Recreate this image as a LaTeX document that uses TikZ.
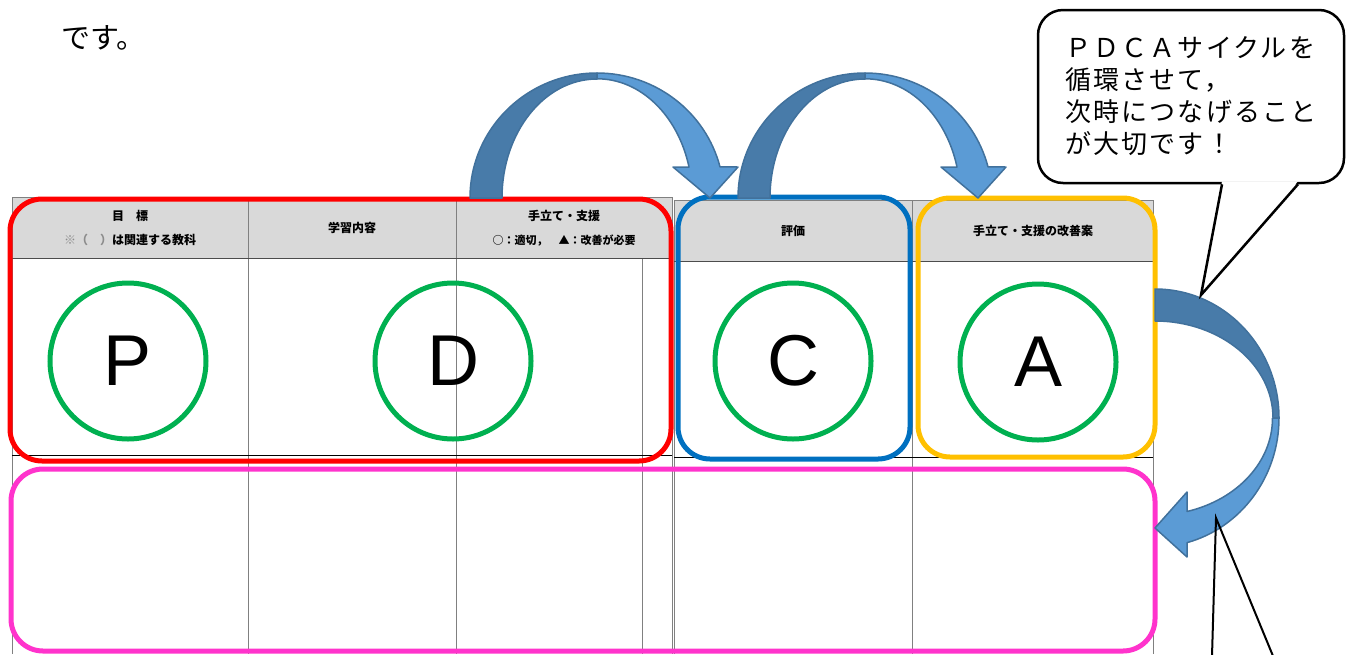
\documentclass[tikz,border=0pt]{standalone}
\usepackage{fontspec}
\usepackage{xcolor}
\usepackage{tikz}

\newfontfamily\jpfont{Noto Sans CJK JP}
\newfontfamily\memofont[LetterSpace=8]{Noto Sans CJK JP}
\newfontfamily\lettersans{Liberation Sans}

\definecolor{headgray}{RGB}{217,217,217}
\definecolor{pdgreen}{RGB}{0,176,80}
\definecolor{cblue}{RGB}{0,112,192}
\definecolor{ayellow}{RGB}{255,192,0}
\definecolor{rosa}{RGB}{255,51,204}
\definecolor{arrowlight}{RGB}{91,155,213}
\definecolor{arrowdark}{RGB}{72,123,169}
\definecolor{arrowedge}{RGB}{65,113,156}

\tikzset{
  rule/.style={draw=black!50, line width=0.9pt},
  headtext/.style={font=\jpfont\bfseries\fontsize{12}{24}\selectfont, align=center, inner sep=0pt},
  phase/.style={circle, draw=pdgreen, line width=5pt, minimum size=156pt, inner sep=0pt,
                font=\lettersans\fontsize{72}{72}\selectfont},
  frame/.style={line width=5pt, rounded corners=32pt},
  backpart/.style={fill=arrowdark, draw=arrowedge, line width=1.5pt, line join=round},
  frontpart/.style={fill=arrowlight, draw=arrowedge, line width=1.5pt, line join=round},
  memo/.style={draw, line width=2.5pt, fill=white, rounded corners=25pt, minimum width=306pt,
               minimum height=173pt, align=left, font=\memofont\fontsize{26}{32}\selectfont},
}

\begin{document}
\begin{tikzpicture}[x=1pt, y=-1pt]
        \useasboundingbox (0,0) rectangle (1346,654);

        \node[anchor=west, inner sep=0pt, font=\jpfont\fontsize{29}{29}\selectfont] (lead) at (61,38) {です。};

        % table, left part
        \fill[headgray] (12,197) rectangle (672,258);
        \draw[rule] (12,197) -- (672,197);
        \foreach \x in {12,248,456,672}
            \draw[rule] (\x,197) -- (\x,654);
        \draw[rule] (642,258) -- (642,654);
        \draw[rule, draw=black!70] (12,258) -- (672,258);
        \draw[rule, draw=black] (12,455) -- (672,455);

        % table, right part
        \fill[headgray] (674,200) rectangle (1153,261);
        \draw[rule] (674,200) -- (1153,200);
        \foreach \x in {674,912,1153}
            \draw[rule] (\x,200) -- (\x,654);
        \draw[rule, draw=black!70] (674,261) -- (1153,261);
        \draw[rule, draw=black] (674,457) -- (1153,457);

        \node[headtext] (goal) at (130,228) {目　標\\{\color{black!45}※（　）}は関連する教科};
        \node[headtext] (content) at (352,228) {学習内容};
        \node[headtext] (support) at (564,228) {手立て・支援\\{\fontsize{11}{24}\selectfont ○：適切，　▲：改善が必要}};
        \node[headtext] (rating) at (793,231) {評価};
        \node[headtext] (improve) at (1033,231) {手立て・支援の改善案};

        \node[phase] (P) at (128,361) {P};
        \node[phase] (D) at (453,361) {D};
        \node[phase] (C) at (793,361) {C};
        \node[phase] (A) at (1038,362) {A};

        \draw[frame, red] (10,199) rectangle (671,461);
        \draw[frame, cblue] (678,197) rectangle (910,459);
        \draw[frame, ayellow] (918,198) rectangle (1155,457);
        \draw[frame, rosa] (11,469) rectangle (1155,651);

        % P -> C and C -> A
        \foreach \s in {0,268} {
            \begin{scope}[shift={(\s,0)}]
                \filldraw[backpart] (470,198) arc[start angle=180, end angle=270, x radius=127, y radius=125]
                    -- (597,79) arc[start angle=270, end angle=180, x radius=95, y radius=119] -- cycle;
                \filldraw[frontpart] (597,73) arc[start angle=270, end angle=345.6, x radius=127, y radius=125]
                    -- (738,167) -- (710,198) -- (673,167) -- (689,167)
                    arc[start angle=345, end angle=270, x radius=95, y radius=119] -- cycle;
            \end{scope}
        }

        % A -> next row
        \filldraw[backpart] (1155,289) arc[start angle=270, end angle=360, x radius=124, y radius=129]
            -- (1273,418) arc[start angle=0, end angle=-90, x radius=118, y radius=97] -- cycle;
        \filldraw[frontpart] (1279,418) arc[start angle=0, end angle=75, x radius=124, y radius=129]
            -- (1187,557) -- (1155,528) -- (1187,492) -- (1187,511.5)
            arc[start angle=74, end angle=0, x radius=118, y radius=97] -- cycle;

        \node[memo] (memo) at (1191,96.5) {ＰＤＣＡサイクルを\\循環させて，\\次時につなげること\\が大切です！};
        \coordinate (memotip) at (1201,295);
        \fill[white] ([xshift=31pt, yshift=3pt]memo.south) -- (memotip) -- ([xshift=107pt, yshift=3pt]memo.south) -- cycle;
        \draw[line width=2.5pt] ([xshift=31pt]memo.south) -- (memotip) -- ([xshift=107pt]memo.south);

        \coordinate (nexttip) at (1216,518);
        \draw[line width=2pt] (1212,656) -- (nexttip) -- (1273,656);
    \end{tikzpicture}
\end{document}
